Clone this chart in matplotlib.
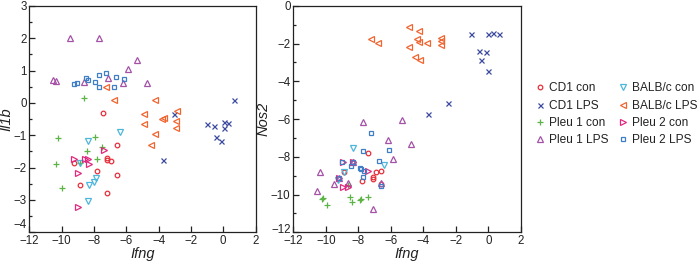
import matplotlib
matplotlib.use("Agg")
import matplotlib.pyplot as plt
import matplotlib.transforms as mtrans
from matplotlib.ticker import MultipleLocator
from matplotlib.lines import Line2D

plt.rcParams['font.family'] = ['Liberation Sans', 'DejaVu Sans']

groups = ["CD1 con", "CD1 LPS", "Pleu 1 con", "Pleu 1 LPS",
          "BALB/c con", "BALB/c LPS", "Pleu 2 con", "Pleu 2 LPS"]

# ---- Left panel: Ifng vs Il1b ----
l_cd1con_x = [-7.45, -6.58, -7.17, -7.17, -6.94, -7.79, -6.58, -8.86, -7.17, -9.23]
l_cd1con_y = [-0.30, -1.31, -1.70, -1.77, -1.80, -2.11, -2.24, -2.54, -2.78, -1.85]
l_cd1lps_x = [0.64, -1.01, -0.54, -0.43, -0.12, 0.06, 0.02, 0.29, -3.03, -3.70]
l_cd1lps_y = [0.09, -0.66, -0.72, -1.05, -1.17, -0.59, -0.79, -0.61, -0.35, -1.75]
l_p1con_x = [-8.59, -10.20, -10.35, -9.96, -7.93, -8.41, -7.48, -7.83, -8.86]
l_p1con_y = [0.14, -1.10, -1.89, -2.62, -1.05, -1.48, -1.36, -1.74, -1.87]
l_p1lps_x = [-9.48, -7.72, -5.31, -5.87, -10.51, -10.36, -8.65, -7.14, -6.18, -4.73]
l_p1lps_y = [2.02, 2.02, 1.32, 1.04, 0.70, 0.68, 0.64, 0.78, 0.60, 0.60]
l_bcon_x = [-8.36, -6.42, -8.29, -7.97, -7.87, -8.38, -8.86]
l_bcon_y = [-1.17, -0.90, -2.55, -2.43, -2.32, -3.03, -1.86]
l_blps_x = [-7.25, -6.79, -4.23, -4.89, -4.89, -4.21, -4.50, -3.76, -3.66, -2.89, -2.93, -2.93]
l_blps_y = [0.48, 0.09, 0.08, -0.35, -0.66, -0.97, -1.29, -0.50, -0.48, -0.24, -0.55, -0.78]
l_p2con_x = [-7.41, -9.22, -8.57, -8.36, -8.31, -8.96, -8.96]
l_p2con_y = [-1.46, -1.73, -1.73, -1.73, -1.90, -2.18, -3.22]
l_p2lps_x = [-9.24, -9.03, -8.51, -8.38, -7.91, -7.66, -7.66, -7.25, -6.63, -6.75, -6.13]
l_p2lps_y = [0.59, 0.61, 0.76, 0.72, 0.64, 0.86, 0.50, 0.92, 0.81, 0.50, 0.74]

# ---- Right panel: Ifng vs Nos2 ----
r_cd1con_x = [-7.42, -6.90, -6.60, -7.11, -7.11, -7.75, -6.60, -8.86, -8.30]
r_cd1con_y = [-7.78, -8.78, -8.75, -9.05, -9.19, -9.26, -9.43, -8.78, -8.25]
r_cd1lps_x = [-1.05, -0.01, 0.26, 0.63, -0.56, -0.15, -0.46, -0.01, -2.45, -3.72]
r_cd1lps_y = [-1.50, -1.50, -1.46, -1.50, -2.38, -2.47, -2.87, -3.46, -5.17, -5.75]
r_p1con_x = [-10.25, -10.15, -9.94, -8.51, -8.40, -7.89, -7.83, -7.42, -8.61]
r_p1con_y = [-10.25, -10.16, -10.55, -10.14, -10.37, -10.28, -10.24, -10.14, -9.49]
r_p1lps_x = [-7.72, -5.32, -6.18, -4.75, -5.88, -10.35, -10.52, -9.47, -9.17, -8.61, -6.60, -7.11, -8.34]
r_p1lps_y = [-6.17, -6.05, -7.11, -7.34, -8.11, -8.78, -9.79, -9.45, -9.13, -9.40, -9.37, -10.77, -8.25]
r_bcon_x = [-8.30, -6.39, -8.86, -9.27]
r_bcon_y = [-7.55, -8.43, -8.78, -9.22]
r_blps_x = [-4.87, -4.26, -7.24, -6.76, -4.87, -4.40, -4.24, -3.79, -2.90, -2.90, -2.90, -4.50, -4.20]
r_blps_y = [-1.11, -1.34, -1.78, -1.99, -2.17, -1.78, -1.94, -1.96, -1.68, -1.85, -2.05, -2.73, -2.87]
r_p2con_x = [-8.96, -8.34, -7.38, -8.92, -8.61, -9.17]
r_p2con_y = [-8.25, -8.25, -8.75, -9.58, -9.58, -9.13]
r_p2lps_x = [-7.21, -7.69, -6.10, -6.72, -8.98, -8.44, -8.30, -7.89, -7.83, -7.63, -7.69, -6.60, -9.17]
r_p2lps_y = [-6.72, -7.67, -7.64, -8.22, -8.29, -8.47, -8.29, -8.57, -8.64, -8.75, -9.05, -9.54, -9.13]

x_ticks = [-12, -10, -8, -6, -4, -2, 0, 2]
il1b_ticks = [-4, -3, -2, -1, 0, 1, 2, 3]
nos2_ticks = [-12, -10, -8, -6, -4, -2, 0]

left_data = [(l_cd1con_x, l_cd1con_y), (l_cd1lps_x, l_cd1lps_y), (l_p1con_x, l_p1con_y),
             (l_p1lps_x, l_p1lps_y), (l_bcon_x, l_bcon_y), (l_blps_x, l_blps_y),
             (l_p2con_x, l_p2con_y), (l_p2lps_x, l_p2lps_y)]
right_data = [(r_cd1con_x, r_cd1con_y), (r_cd1lps_x, r_cd1lps_y), (r_p1con_x, r_p1con_y),
              (r_p1lps_x, r_p1lps_y), (r_bcon_x, r_bcon_y), (r_blps_x, r_blps_y),
              (r_p2con_x, r_p2con_y), (r_p2lps_x, r_p2lps_y)]

colors = ["#E5303A", "#3B4A9E", "#5DB446", "#A352A6",
          "#4DB6DA", "#F0652F", "#E0287F", "#3F7EC4"]
markers = ["o", "x", "+", "^", "v", "<", ">", "s"]
msizes = [3.3, 3.6, 4.2, 3.8, 3.8, 3.8, 3.8, 3.3]

fig = plt.figure(figsize=(7.0, 2.64), dpi=100)
axL = fig.add_axes([0.042, 0.120, 0.323, 0.858])
axR = fig.add_axes([0.419, 0.120, 0.325, 0.858])

tcol = "#222222"
for ax, data in ((axL, left_data), (axR, right_data)):
    for (xs, ys), c, m, ms in zip(data, colors, markers, msizes):
        ax.plot(xs, ys, linestyle="none", marker=m, markersize=ms,
                markerfacecolor="none", markeredgecolor=c, markeredgewidth=0.9)
    ax.set_xlim(-12, 2)
    ax.set_xticks(x_ticks)
    for sp in ax.spines.values():
        sp.set_linewidth(0.9)
        sp.set_color(tcol)
    ax.set_xlabel("Ifng", fontsize=10.5, style="italic", labelpad=0, color=tcol)

axL.set_ylim(-4, 3)
axL.set_yticks(il1b_ticks)
axL.yaxis.set_minor_locator(MultipleLocator(0.5))
axL.set_ylabel("Il1b", fontsize=10.5, style="italic", labelpad=0, color=tcol)

axR.set_ylim(-12, 0)
axR.set_yticks(nos2_ticks)
axR.yaxis.set_minor_locator(MultipleLocator(1))
axR.set_ylabel("Nos2", fontsize=10.5, style="italic", labelpad=0, color=tcol)

for ax in (axL, axR):
    ax.tick_params(which="both", direction="in", top=False, right=False,
                   labelsize=8.3, colors=tcol, width=0.9, pad=2)
    ax.tick_params(which="major", length=4)
    ax.tick_params(which="minor", length=2.5)

# lift the lowest y tick label so it clears the x tick label below it
for ax, dy in ((axL, 9), (axR, 4)):
    lab = ax.yaxis.get_major_ticks()[0].label1
    lab.set_transform(lab.get_transform() +
                      mtrans.ScaledTranslation(0, dy / 100, fig.dpi_scale_trans))

handles = [Line2D([], [], linestyle="none", marker=m, markersize=ms,
                  markerfacecolor="none", markeredgecolor=c, markeredgewidth=0.9)
           for c, m, ms in zip(colors, markers, msizes)]
fig.legend(handles, groups, ncol=2, loc="upper left",
           bbox_to_anchor=(0.766, 0.688), frameon=False, fontsize=8.6,
           handlelength=0.7, handletextpad=0.35, columnspacing=0.9,
           labelspacing=0.45, borderpad=0, borderaxespad=0, labelcolor=tcol)

fig.savefig("out.png", dpi=100)
